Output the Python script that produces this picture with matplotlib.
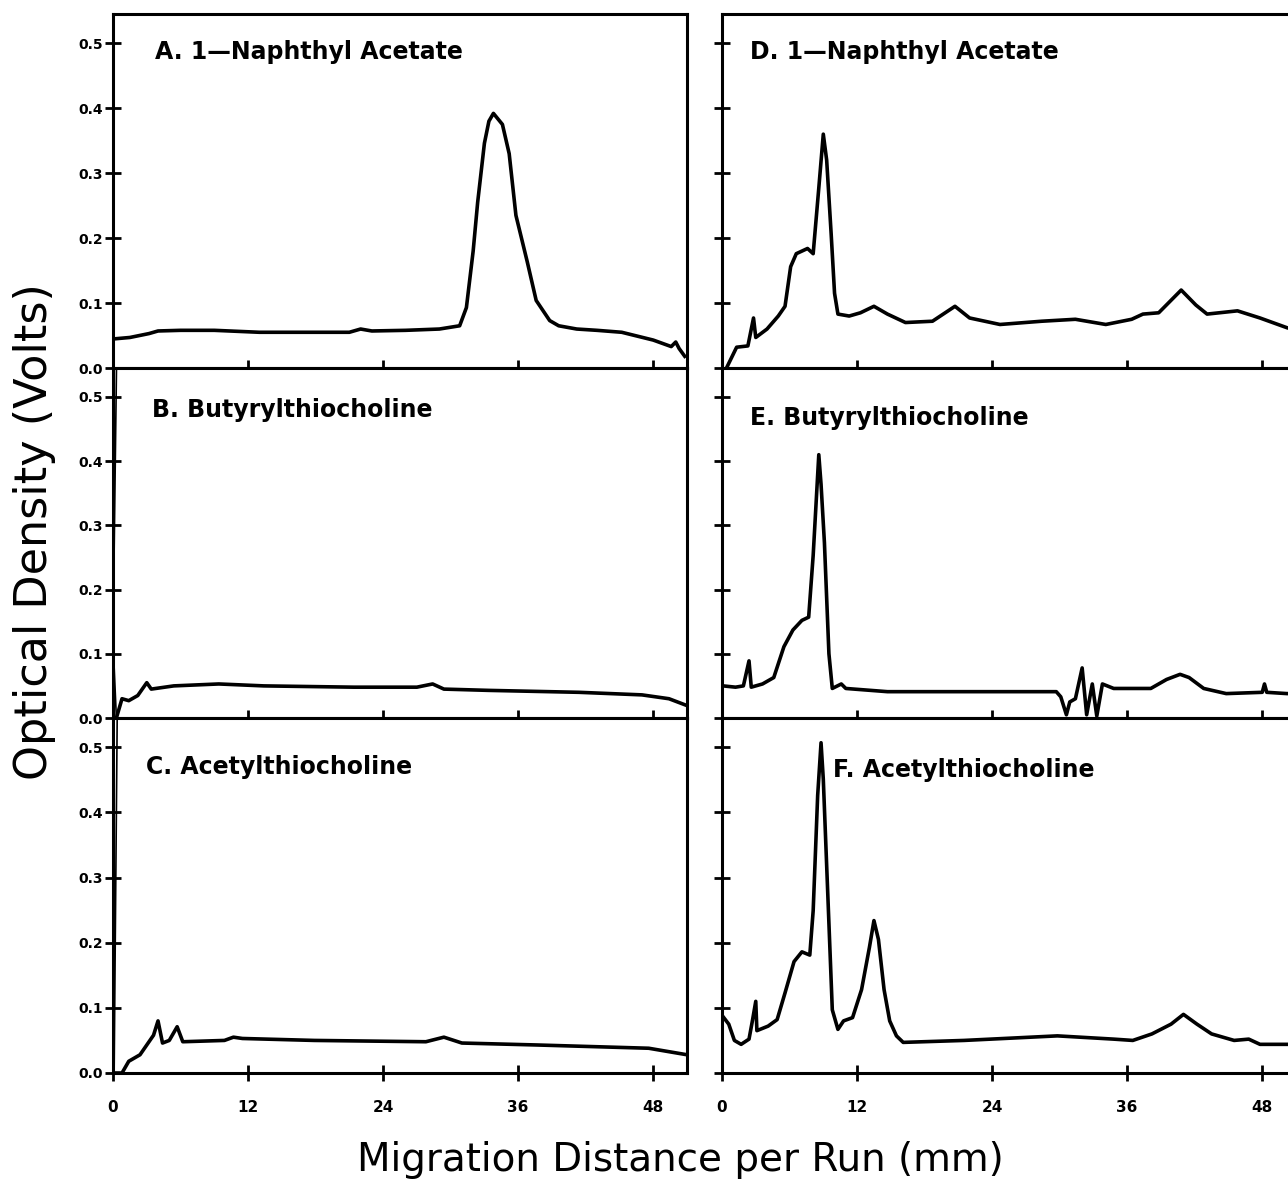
import matplotlib.pyplot as plt

# ---- traces (x in mm, y in volts) ----
# A. 1-Naphthyl Acetate
a_x = [0.2, 1.5, 3.2, 4.0, 6.0, 9.0, 13.0, 17.0, 21.0, 22.0, 23.0, 26.0, 29.0, 30.8,
       31.4, 32.0, 32.4, 33.0, 33.4, 33.8, 34.6, 35.2, 35.8, 36.8, 37.6, 38.8, 39.6,
       41.2, 43.0, 45.2, 48.0, 49.6, 50.0, 50.3, 50.8]
a_y = [0.045, 0.047, 0.053, 0.057, 0.058, 0.058, 0.055, 0.055, 0.055, 0.060, 0.057, 0.058,
       0.060, 0.065, 0.093, 0.180, 0.255, 0.346, 0.380, 0.392, 0.375, 0.330, 0.235, 0.164,
       0.104, 0.073, 0.065, 0.060, 0.058, 0.055, 0.043, 0.033, 0.040, 0.030, 0.018]

# B. Butyrylthiocholine (first points: thin off-scale start at x~0)
b_x = [0.35, 0.0, 0.3, 0.8, 1.4, 2.2, 3.0, 3.4, 5.4, 9.4, 13.4, 21.4, 27.0, 28.4, 29.4,
       33.4, 41.4, 47.0, 49.4, 50.9]
b_y = [0.60, 0.12, 0.0, 0.030, 0.027, 0.035, 0.055, 0.045, 0.050, 0.053, 0.050, 0.048,
       0.048, 0.053, 0.045, 0.043, 0.040, 0.036, 0.030, 0.020]

# C. Acetylthiocholine
c_x = [0.4, 0.1, 0.8, 1.4, 2.4, 3.6, 4.0, 4.4, 5.0, 5.7, 6.2, 9.9, 10.7, 11.5, 17.9,
       27.8, 29.4, 31.0, 37.7, 47.6, 51.0]
c_y = [0.60, 0.0, 0.0, 0.018, 0.028, 0.058, 0.080, 0.046, 0.050, 0.071, 0.048, 0.050,
       0.055, 0.053, 0.050, 0.048, 0.055, 0.046, 0.043, 0.038, 0.028]

# D. 1-Naphthyl Acetate
d_x = [0.4, 1.3, 2.3, 2.8, 3.0, 4.0, 5.0, 5.6, 6.1, 6.6, 7.6, 8.1, 8.6, 9.0, 9.3, 9.7,
       10.0, 10.3, 11.3, 12.3, 13.5, 14.7, 16.3, 18.7, 20.7, 22.0, 24.7, 28.4, 31.4,
       34.1, 36.4, 37.4, 38.8, 40.8, 42.1, 43.1, 45.8, 47.8, 50.2, 51.0]
d_y = [0.0, 0.032, 0.034, 0.077, 0.047, 0.060, 0.080, 0.095, 0.156, 0.176, 0.184, 0.176,
       0.277, 0.360, 0.320, 0.206, 0.115, 0.083, 0.080, 0.085, 0.095, 0.083, 0.070, 0.072,
       0.095, 0.077, 0.067, 0.072, 0.075, 0.067, 0.075, 0.083, 0.085, 0.120, 0.097, 0.083,
       0.088, 0.077, 0.062, 0.058]

# E. Butyrylthiocholine
e_x = [0.1, 1.2, 1.9, 2.4, 2.6, 3.6, 4.6, 5.5, 6.3, 7.1, 7.7, 8.1, 8.6, 8.8, 9.1, 9.5,
       9.8, 10.6, 11.0, 14.7, 22.0, 29.7, 30.1, 30.6, 30.9, 31.4, 32.0, 32.4, 32.9, 33.3,
       33.8, 34.8, 38.1, 39.5, 40.7, 41.5, 42.8, 44.8, 48.0, 48.2, 48.4, 50.2, 51.0]
e_y = [0.050, 0.048, 0.050, 0.089, 0.048, 0.053, 0.063, 0.111, 0.137, 0.152, 0.157, 0.253,
       0.410, 0.364, 0.273, 0.100, 0.046, 0.053, 0.046, 0.041, 0.041, 0.041, 0.033, 0.005,
       0.025, 0.030, 0.078, 0.005, 0.053, 0.003, 0.053, 0.046, 0.046, 0.060, 0.068, 0.063,
       0.046, 0.038, 0.040, 0.053, 0.040, 0.038, 0.038]

# F. Acetylthiocholine
f_x = [0.07, 0.6, 1.1, 1.7, 2.4, 2.7, 3.0, 3.1, 4.1, 4.9, 5.6, 6.4, 7.1, 7.8, 8.1, 8.5,
       8.8, 9.0, 9.4, 9.8, 10.3, 10.8, 11.6, 12.4, 13.1, 13.5, 13.9, 14.4, 14.9, 15.5,
       16.1, 21.5, 29.8, 34.8, 36.5, 38.2, 39.9, 41.0, 42.2, 43.5, 45.5, 46.8, 47.8, 51.0]
f_y = [0.087, 0.075, 0.050, 0.044, 0.052, 0.080, 0.110, 0.065, 0.072, 0.082, 0.123, 0.171,
       0.186, 0.181, 0.249, 0.426, 0.507, 0.451, 0.274, 0.097, 0.067, 0.080, 0.085, 0.128,
       0.193, 0.234, 0.205, 0.128, 0.080, 0.057, 0.047, 0.050, 0.057, 0.052, 0.050, 0.060,
       0.075, 0.090, 0.075, 0.060, 0.050, 0.052, 0.044, 0.044]

titles = ['A. 1\u2014Naphthyl Acetate', 'B. Butyrylthiocholine', 'C. Acetylthiocholine',
          'D. 1\u2014Naphthyl Acetate', 'E. Butyrylthiocholine', 'F. Acetylthiocholine']
title_pos = [(0.073, 0.893), (0.068, 0.88), (0.058, 0.862),
             (0.049, 0.893), (0.049, 0.857), (0.194, 0.853)]
traces = [(a_x, a_y), (b_x, b_y), (c_x, c_y), (d_x, d_y), (e_x, e_y), (f_x, f_y)]
# number of leading points drawn as a thin off-scale start
thin_start = [0, 3, 2, 0, 0, 0]
x_ticks = [0, 12, 24, 36, 48]
y_ticks = [0.0, 0.1, 0.2, 0.3, 0.4, 0.5]

W, H = 1288, 1198
fig = plt.figure(figsize=(W / 100, H / 100), dpi=100)

# panel boxes in pixels: (left, top, width, height)
rows = [(14, 354), (368, 350), (718, 355)]
cols = [(113, 574), (722, 574)]

for i, (tx, ty) in enumerate(traces):
    col, row = divmod(i, 3)
    left, width = cols[col]
    top, height = rows[row]
    ax = fig.add_axes([left / W, 1 - (top + height) / H, width / W, height / H])
    k = thin_start[i]
    if k:
        ax.plot(tx[:k], ty[:k], color='black', lw=1.2)
        ax.plot(tx[k - 1:], ty[k - 1:], color='black', lw=2.6, solid_joinstyle='round')
    else:
        ax.plot(tx, ty, color='black', lw=2.6, solid_joinstyle='round')
    ax.set_xlim(0, 51)
    ax.set_ylim(0, 0.545)
    for s in ax.spines.values():
        s.set_linewidth(2.2)
    ax.set_xticks(x_ticks)
    ax.set_yticks(y_ticks)
    ax.tick_params(direction='inout', length=11, width=2, colors='black')
    ax.tick_params(axis='x', pad=14)
    ax.tick_params(axis='y', pad=2)
    if row < 2:
        ax.set_xticklabels([])
    else:
        ax.set_xticklabels([str(t) for t in x_ticks], fontsize=11, fontweight='bold')
    if col == 1:
        ax.set_yticklabels([])
    else:
        ax.set_yticklabels(['%.1f' % t for t in y_ticks], fontsize=10, fontweight='bold')
    px, py = title_pos[i]
    ax.text(px, py, titles[i], transform=ax.transAxes, fontsize=17, fontweight='bold',
            ha='left', va='center')

fig.text(35 / W, 1 - 532 / H, 'Optical Density (Volts)', rotation=90, fontsize=32,
         ha='center', va='center')
fig.text(680 / W, 1 - 1160 / H, 'Migration Distance per Run (mm)', fontsize=28,
         ha='center', va='center')

fig.savefig('out.png', dpi=100)
